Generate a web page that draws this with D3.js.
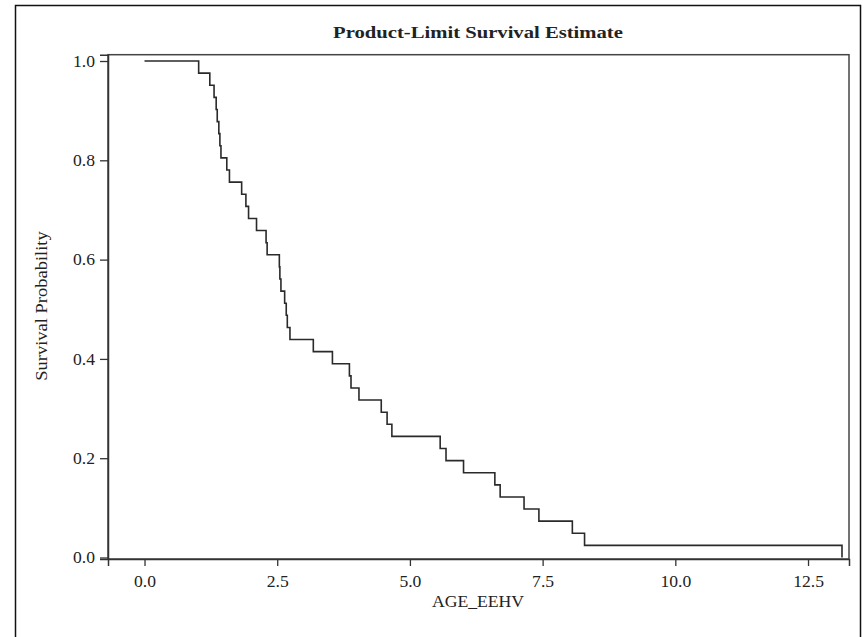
<!DOCTYPE html>
<html><head><meta charset="utf-8">
<script src="https://cdn.jsdelivr.net/npm/d3@7"></script>
<style>body{margin:0;background:#fff}svg{display:block}text{font-family:"Liberation Serif","Times New Roman",serif;fill:#222}</style>
</head><body><svg id="c" width="867" height="637"></svg>
<script>
// Event times (AGE_EEHV) and survival estimate after each event
const eventTimes = [1.02,1.23,1.31,1.35,1.37,1.40,1.42,1.44,1.55,1.60,1.83,1.91,1.96,2.11,2.29,2.31,2.54,2.55,2.57,2.64,2.67,2.69,2.74,3.18,3.54,3.86,3.89,4.04,4.46,4.57,4.66,5.57,5.68,6.01,6.60,6.70,7.15,7.43,8.06,8.29,13.14];
const survival = [0.9756,0.9512,0.9268,0.9024,0.8780,0.8537,0.8293,0.8049,0.7805,0.7561,0.7317,0.7073,0.6829,0.6585,0.6341,0.6098,0.5854,0.5610,0.5366,0.5122,0.4878,0.4634,0.4390,0.4146,0.3902,0.3659,0.3415,0.3171,0.2927,0.2683,0.2439,0.2195,0.1951,0.1707,0.1463,0.1220,0.0976,0.0732,0.0488,0.0244,0.0];
const xTicks = [0,2.5,5,7.5,10,12.5];
const yTicks = [0,0.2,0.4,0.6,0.8,1.0];
const titleText = "Product-Limit Survival Estimate";
const xLabel = "AGE_EEHV";
const yLabel = "Survival Probability";

const svg = d3.select("#c");
const L=108, R=849, T=54.7, B=559;
const x = d3.scaleLinear().domain([-0.688,13.272]).range([L,R]);
const y = d3.scaleLinear().domain([-0.003,1.0127]).range([B,T]);

// widen glyphs slightly (reference font is wider than Times)
function widen(sel, f){
  sel.each(function(){
    const w = this.getComputedTextLength();
    d3.select(this).attr("textLength", w*f).attr("lengthAdjust","spacingAndGlyphs");
  });
}

// outer frame
svg.append("rect").attr("x",15.5).attr("y",5.5).attr("width",845).attr("height",650)
  .attr("fill","none").attr("stroke","#111").attr("stroke-width",1.5);

// title
const tt = svg.append("text").attr("x",478).attr("y",38).attr("text-anchor","middle")
  .attr("font-weight","bold").attr("font-size",17.5).text(titleText);
widen(tt, 1.18);

// plot box
svg.append("rect").attr("x",L).attr("y",T).attr("width",R-L).attr("height",B-T)
  .attr("fill","none").attr("stroke","#444").attr("stroke-width",1.5);

// axes
const xa = svg.append("g").attr("transform",`translate(0,${B})`)
  .call(d3.axisBottom(x).tickValues(xTicks).tickFormat(d3.format(".1f")).tickSize(7).tickPadding(10));
const ya = svg.append("g").attr("transform",`translate(${L},0)`)
  .call(d3.axisLeft(y).tickValues(yTicks).tickFormat(d3.format(".1f")).tickSize(8).tickPadding(5));
[xa,ya].forEach(g=>{
  g.attr("font-family",null).attr("font-size",null);
  g.select(".domain").attr("stroke","#333").attr("stroke-width",1.5);
  g.selectAll(".tick line").attr("stroke","#333").attr("stroke-width",1.3);
  g.selectAll(".tick text").attr("font-family","Liberation Serif").attr("font-size",16).attr("fill","#222");
  widen(g.selectAll(".tick text"), 1.1);
});

// axis labels
const xl = svg.append("text").attr("x",478).attr("y",607).attr("text-anchor","middle")
  .attr("font-size",16.5).text(xLabel);
widen(xl, 1.07);
const yl = svg.append("text").attr("transform","translate(47,306) rotate(-90)").attr("text-anchor","middle")
  .attr("font-size",16.5).text(yLabel);
widen(yl, 1.12);

// KM step curve
const pts = [[0,1]].concat(eventTimes.map((t,i)=>[t,survival[i]]));
svg.append("path").datum(pts)
  .attr("d", d3.line().x(d=>x(d[0])).y(d=>y(d[1])).curve(d3.curveStepAfter))
  .attr("fill","none").attr("stroke","#2a2a2a").attr("stroke-width",1.6);
</script></body></html>
